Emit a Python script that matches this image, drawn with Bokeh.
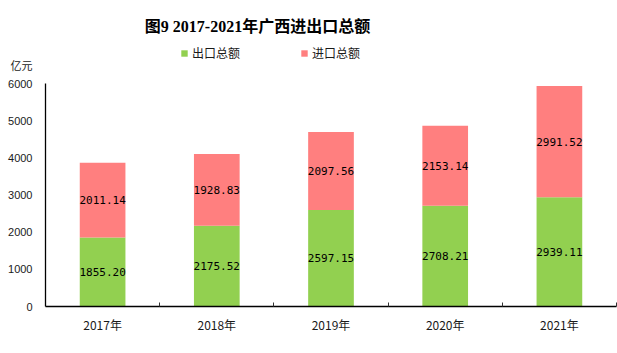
from bokeh.plotting import figure
from bokeh.models import (ColumnDataSource, Range1d, FixedTicker, Label, LabelSet,
                          Legend, LegendItem)
from bokeh.core.properties import value
from bokeh.embed import file_html
from bokeh.resources import INLINE

years = ["2017年", "2018年", "2019年", "2020年", "2021年"]
exports = [1855.20, 2175.52, 2597.15, 2708.21, 2939.11]
imports = [2011.14, 1928.83, 2097.56, 2153.14, 2991.52]
series_names = ["出口总额", "进口总额"]
colors = ["#92D050", "#FF7F7F"]
y_ticks = [0, 1000, 2000, 3000, 4000, 5000, 6000]
unit = "亿元"

FRAME_H = 306          # frame spans from canvas top to the x axis
AXIS_H = 223           # pixels used by 0..6000
y_max = y_ticks[-1]
y_end = y_max * FRAME_H / AXIS_H
unit_y = y_max * (FRAME_H - 65) / AXIS_H

xs = [i + 0.5 for i in range(len(years))]
src = ColumnDataSource(dict(
    x=xs, exp=exports, imp=imports,
    exp_mid=[e / 2 for e in exports],
    imp_mid=[e + m / 2 for e, m in zip(exports, imports)],
    exp_txt=["%.2f" % v for v in exports],
    imp_txt=["%.2f" % v for v in imports],
))

p = figure(width=617, height=353, output_backend="svg", toolbar_location=None,
           x_range=Range1d(0, len(years)), y_range=Range1d(0, y_end),
           min_border_left=45, min_border_right=1, min_border_top=0, min_border_bottom=47)
p.outline_line_color = None
p.xgrid.visible = False
p.ygrid.visible = False
p.background_fill_color = "white"
p.border_fill_color = "white"

r = p.vbar_stack(["exp", "imp"], x="x", width=0.4, source=src, color=colors, line_color=None)

# axes
xa = p.xaxis[0]
xa.ticker = FixedTicker(ticks=xs, minor_ticks=list(range(1, len(years) + 1)))
xa.major_label_overrides = {x: y for x, y in zip(xs, years)}
xa.major_tick_in = 0
xa.major_tick_out = 0
xa.minor_tick_in = 4
xa.minor_tick_out = 0
xa.minor_tick_line_color = "#333333"
xa.axis_line_color = "black"
xa.axis_line_width = 1.3
xa.major_label_text_font = "Noto Sans CJK SC"
xa.major_label_text_font_size = "12px"
xa.major_label_text_color = "#1a1a1a"
xa.major_label_standoff = 9

ya = p.yaxis[0]
ya.bounds = (0, y_max)
ya.ticker = FixedTicker(ticks=y_ticks + [unit_y])
ya.major_label_overrides = {unit_y: unit}
ya.major_tick_in = 0
ya.major_tick_out = 0
ya.minor_tick_in = 0
ya.minor_tick_out = 0
ya.axis_line_color = "black"
ya.axis_line_width = 1.3
ya.major_label_text_font = "Liberation Sans, Noto Sans CJK SC"
ya.major_label_text_font_size = "11px"
ya.major_label_text_color = "#1a1a1a"
ya.major_label_standoff = 13

# data labels
for col, txt in (("exp_mid", "exp_txt"), ("imp_mid", "imp_txt")):
    p.add_layout(LabelSet(x="x", y=col, text=txt, source=src, text_align="center",
                          text_baseline="middle", text_font=value("DejaVu Sans Mono"),
                          text_font_size=value("11px"), text_color="black"))

# title
p.add_layout(Label(x=212, y=FRAME_H - 26, x_units="screen", y_units="screen",
                   text="图9 2017-2021年广西进出口总额", text_align="center",
                   text_baseline="middle", text_font="Liberation Serif, Noto Sans CJK SC",
                   text_font_style="bold", text_font_size="16px", text_color="black"))

legend = Legend(items=[LegendItem(label=n, renderers=[rr]) for n, rr in zip(series_names, r)],
                location=(135, FRAME_H - 61), orientation="horizontal", glyph_width=8, glyph_height=8,
                label_standoff=4, spacing=60, padding=0, margin=0,
                background_fill_alpha=0, border_line_color=None,
                label_text_font="Noto Sans CJK SC", label_text_font_size="12px",
                label_text_color="#1a1a1a")
p.add_layout(legend, "center")

open("out.html", "w").write(file_html(p, INLINE))
